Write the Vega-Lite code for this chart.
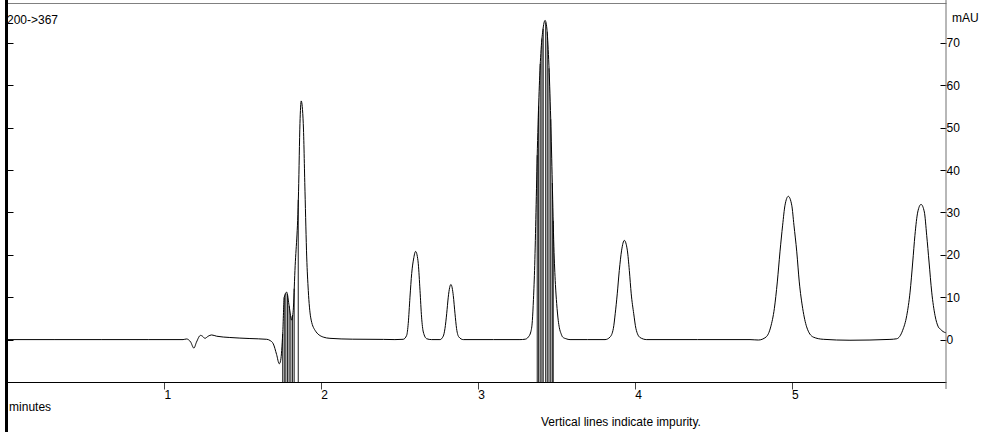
{
  "$schema": "https://vega.github.io/schema/vega-lite/v6.json",
  "width": 939,
  "height": 379,
  "autosize": {"type": "none"},
  "padding": {"left": 7, "top": 3, "right": 42, "bottom": 50},
  "background": "white",
  "config": {
    "view": {"stroke": null},
    "font": "Liberation Sans",
    "axis": {"labelFont": "Liberation Sans", "labelFontSize": 12, "labelColor": "black", "grid": false, "labelFlush": false, "labelOverlap": false},
    "text": {"font": "Liberation Sans", "fontSize": 12, "color": "black"}
  },
  "datasets": {
    "trace": [
      {"t": 0, "v": 0}, {"t": 0.3, "v": 0}, {"t": 0.6, "v": 0}, {"t": 0.9, "v": 0}, {"t": 1.122, "v": 0},
      {"t": 1.144, "v": 0.15}, {"t": 1.170, "v": -0.55}, {"t": 1.191, "v": -2.0}, {"t": 1.208, "v": -0.55},
      {"t": 1.233, "v": 1.0}, {"t": 1.246, "v": 0.8}, {"t": 1.261, "v": 0.3}, {"t": 1.282, "v": 0.8},
      {"t": 1.304, "v": 1.1}, {"t": 1.336, "v": 0.8}, {"t": 1.42, "v": 0.5}, {"t": 1.548, "v": 0.25},
      {"t": 1.655, "v": 0.07}, {"t": 1.676, "v": -0.2}, {"t": 1.697, "v": -1.0}, {"t": 1.718, "v": -3.5},
      {"t": 1.735, "v": -5.7}, {"t": 1.744, "v": -4.9}, {"t": 1.757, "v": 1.4}, {"t": 1.767, "v": 10.0},
      {"t": 1.782, "v": 11.2}, {"t": 1.799, "v": 7.7}, {"t": 1.814, "v": 4.6}, {"t": 1.824, "v": 6.9},
      {"t": 1.835, "v": 16.3}, {"t": 1.858, "v": 35}, {"t": 1.867, "v": 51}, {"t": 1.875, "v": 56.3},
      {"t": 1.888, "v": 51}, {"t": 1.899, "v": 35}, {"t": 1.910, "v": 19.5}, {"t": 1.920, "v": 11.6},
      {"t": 1.935, "v": 5.3}, {"t": 1.963, "v": 2.2}, {"t": 2.015, "v": 0.6}, {"t": 2.058, "v": 0.3},
      {"t": 2.2, "v": 0.1}, {"t": 2.4, "v": 0.05}, {"t": 2.472, "v": 0}, {"t": 2.525, "v": 0.07},
      {"t": 2.547, "v": 1.0}, {"t": 2.557, "v": 3.8}, {"t": 2.568, "v": 10.0}, {"t": 2.579, "v": 15.6},
      {"t": 2.591, "v": 19.0}, {"t": 2.604, "v": 20.8}, {"t": 2.613, "v": 20.0}, {"t": 2.621, "v": 17.9},
      {"t": 2.632, "v": 11.6}, {"t": 2.642, "v": 5.3}, {"t": 2.653, "v": 1.8}, {"t": 2.675, "v": 0.2},
      {"t": 2.706, "v": 0}, {"t": 2.759, "v": 0}, {"t": 2.780, "v": 0.8}, {"t": 2.791, "v": 2.6},
      {"t": 2.802, "v": 6.1}, {"t": 2.812, "v": 10.0}, {"t": 2.821, "v": 12.3}, {"t": 2.829, "v": 13.0},
      {"t": 2.837, "v": 12.2}, {"t": 2.844, "v": 10.4}, {"t": 2.855, "v": 6.1}, {"t": 2.865, "v": 2.6},
      {"t": 2.880, "v": 0.6}, {"t": 2.908, "v": 0}, {"t": 3.1, "v": 0}, {"t": 3.269, "v": 0},
      {"t": 3.303, "v": 0.1}, {"t": 3.322, "v": 0.6}, {"t": 3.338, "v": 1.8}, {"t": 3.348, "v": 4.5},
      {"t": 3.355, "v": 9.5}, {"t": 3.363, "v": 17.5}, {"t": 3.371, "v": 30}, {"t": 3.380, "v": 45},
      {"t": 3.391, "v": 58.5}, {"t": 3.402, "v": 67.5}, {"t": 3.415, "v": 73}, {"t": 3.429, "v": 75.3},
      {"t": 3.440, "v": 73.5}, {"t": 3.452, "v": 66}, {"t": 3.465, "v": 52}, {"t": 3.475, "v": 37},
      {"t": 3.485, "v": 22}, {"t": 3.495, "v": 13}, {"t": 3.503, "v": 8.5}, {"t": 3.513, "v": 4.5},
      {"t": 3.520, "v": 2.8}, {"t": 3.531, "v": 1.4}, {"t": 3.541, "v": 0.6}, {"t": 3.563, "v": 0.2},
      {"t": 3.588, "v": 0}, {"t": 3.7, "v": 0}, {"t": 3.811, "v": 0}, {"t": 3.843, "v": 0.6},
      {"t": 3.864, "v": 2.6}, {"t": 3.876, "v": 6.1}, {"t": 3.889, "v": 10.8}, {"t": 3.902, "v": 16.3},
      {"t": 3.917, "v": 21.1}, {"t": 3.934, "v": 23.4}, {"t": 3.953, "v": 21.1}, {"t": 3.966, "v": 16.3},
      {"t": 3.978, "v": 10.8}, {"t": 3.994, "v": 6.1}, {"t": 4.008, "v": 2.6}, {"t": 4.034, "v": 0.5},
      {"t": 4.077, "v": 0}, {"t": 4.4, "v": 0}, {"t": 4.735, "v": 0}, {"t": 4.788, "v": -0.1},
      {"t": 4.837, "v": 0.6}, {"t": 4.867, "v": 3.0}, {"t": 4.890, "v": 7.3}, {"t": 4.909, "v": 13.6},
      {"t": 4.926, "v": 20.7}, {"t": 4.943, "v": 27.0}, {"t": 4.958, "v": 31.7}, {"t": 4.979, "v": 33.8},
      {"t": 5.001, "v": 31.7}, {"t": 5.015, "v": 27.0}, {"t": 5.033, "v": 20.7}, {"t": 5.049, "v": 13.6},
      {"t": 5.071, "v": 7.3}, {"t": 5.096, "v": 3.0}, {"t": 5.138, "v": 0.6}, {"t": 5.202, "v": 0.07},
      {"t": 5.372, "v": -0.15}, {"t": 5.627, "v": 0.05}, {"t": 5.670, "v": 0.2}, {"t": 5.708, "v": 2.2},
      {"t": 5.734, "v": 5.7}, {"t": 5.755, "v": 11.2}, {"t": 5.772, "v": 18.3}, {"t": 5.786, "v": 24.6},
      {"t": 5.804, "v": 30.1}, {"t": 5.825, "v": 31.9}, {"t": 5.846, "v": 30.1}, {"t": 5.861, "v": 24.6},
      {"t": 5.876, "v": 18.3}, {"t": 5.893, "v": 11.2}, {"t": 5.914, "v": 5.7}, {"t": 5.935, "v": 3.0},
      {"t": 5.950, "v": 2.4}, {"t": 5.965, "v": 1.9}, {"t": 5.984, "v": 1.6}
    ],
    "impurity": [
      {"t": 1.757, "v": 1.4}, {"t": 1.767, "v": 10.0}, {"t": 1.777, "v": 10.9}, {"t": 1.788, "v": 10.5},
      {"t": 1.798, "v": 7.9}, {"t": 1.809, "v": 5.5}, {"t": 1.820, "v": 5.8}, {"t": 1.830, "v": 12},
      {"t": 1.856, "v": 33},
      {"t": 3.379, "v": 43.5}, {"t": 3.388, "v": 55}, {"t": 3.398, "v": 65}, {"t": 3.409, "v": 71},
      {"t": 3.417, "v": 73.3}, {"t": 3.433, "v": 74.8}, {"t": 3.443, "v": 72.5}, {"t": 3.454, "v": 64},
      {"t": 3.465, "v": 52}, {"t": 3.475, "v": 37}, {"t": 3.481, "v": 28}
    ]
  },
  "resolve": {"axis": {"x": "independent", "y": "independent"}},
  "layer": [
    {
      "data": {"name": "impurity"},
      "mark": {"type": "rule", "color": "black", "strokeWidth": 0.9},
      "encoding": {
        "x": {"field": "t", "type": "quantitative", "scale": {"domain": [0, 5.984], "nice": false, "zero": false},
              "axis": {"orient": "top", "ticks": false, "labels": false, "domainColor": "#808080", "title": null}},
        "y": {"field": "v", "type": "quantitative", "scale": {"domain": [-10, 79.4], "nice": false, "zero": false},
              "axis": {"orient": "left", "domain": false, "labels": false, "values": [0, 10, 20, 30, 40, 50, 60, 70], "tickSize": -6, "tickColor": "black", "title": null}},
        "y2": {"datum": -10}
      }
    },
    {
      "data": {"name": "trace"},
      "mark": {"type": "line", "color": "black", "strokeWidth": 1, "interpolate": "monotone"},
      "encoding": {
        "x": {"field": "t", "type": "quantitative", "scale": {"domain": [0, 5.984], "nice": false, "zero": false},
              "axis": {"orient": "bottom", "values": [1, 2, 3, 4, 5], "tickSize": 7, "tickColor": "#444444", "domainColor": "black", "labelAlign": "left", "labelBaseline": "top", "labelPadding": 0.5, "labelDx": 3.5, "title": null}},
        "y": {"field": "v", "type": "quantitative", "scale": {"domain": [-10, 79.4], "nice": false, "zero": false},
              "axis": {"orient": "right", "values": [0, 10, 20, 30, 40, 50, 60, 70], "tickSize": -6, "tickColor": "black", "domain": false, "labelAlign": "left", "labelBaseline": "middle", "labelPadding": 6, "title": null}}
      }
    },
    {
      "data": {"values": [{}]},
      "mark": {"type": "rule", "color": "#707070", "strokeWidth": 1},
      "encoding": {
        "x": {"datum": 5.984, "type": "quantitative", "axis": null},
        "y": {"datum": -11.65, "type": "quantitative", "axis": null},
        "y2": {"datum": 80.1}
      }
    },
    {
      "data": {"values": [{}]},
      "mark": {"type": "rule", "color": "black", "strokeWidth": 3, "xOffset": -0.5},
      "encoding": {
        "x": {"datum": 0, "type": "quantitative", "axis": null},
        "y": {"datum": -21.8, "type": "quantitative", "axis": null},
        "y2": {"datum": 80.1}
      }
    },
    {
      "data": {"values": [{}]},
      "mark": {"type": "text", "text": "200->367", "align": "left", "baseline": "alphabetic"},
      "encoding": {
        "x": {"datum": 0, "type": "quantitative", "axis": null},
        "y": {"datum": 74.45, "type": "quantitative", "axis": null}
      }
    },
    {
      "data": {"values": [{}]},
      "mark": {"type": "text", "text": "mAU", "align": "left", "baseline": "alphabetic"},
      "encoding": {
        "x": {"datum": 6.022, "type": "quantitative", "axis": null},
        "y": {"datum": 75.0, "type": "quantitative", "axis": null}
      }
    },
    {
      "data": {"values": [{}]},
      "mark": {"type": "text", "text": "minutes", "align": "left", "baseline": "alphabetic"},
      "encoding": {
        "x": {"datum": 0.0134, "type": "quantitative", "axis": null},
        "y": {"datum": -16.84, "type": "quantitative", "axis": null}
      }
    },
    {
      "data": {"values": [{}]},
      "mark": {"type": "text", "text": "Vertical lines indicate impurity.", "align": "left", "baseline": "alphabetic"},
      "encoding": {
        "x": {"datum": 3.403, "type": "quantitative", "axis": null},
        "y": {"datum": -20.38, "type": "quantitative", "axis": null}
      }
    }
  ]
}
